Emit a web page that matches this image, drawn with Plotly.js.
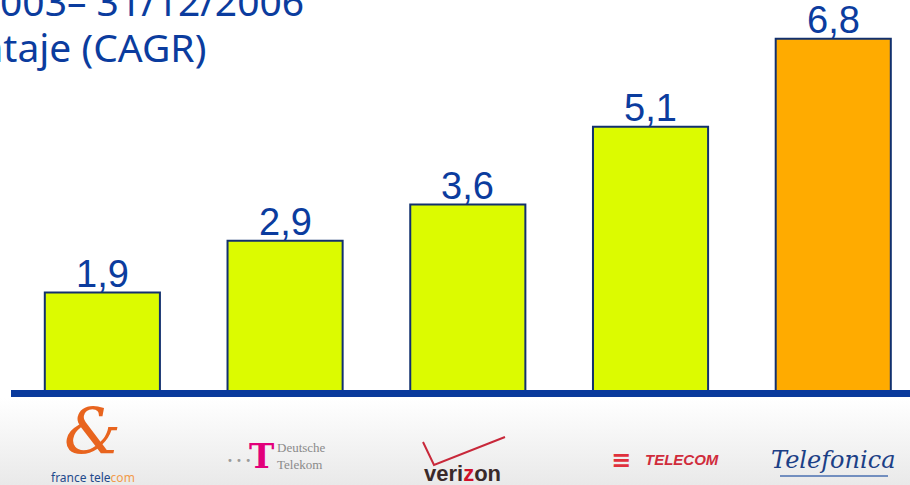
<!DOCTYPE html>
<html>
<head>
<meta charset="utf-8">
<script src="https://cdn.plot.ly/plotly-3.0.1.min.js"></script>
<style>html,body{margin:0;padding:0;background:#fff;}#chart{width:910px;height:485px;}</style>
</head>
<body>
<div id="chart"></div>
<script>
// ---- data ----
var companies = ["France Telecom", "Deutsche Telekom", "Verizon", "Telecom Italia", "Telefónica"];
var cagr = [1.9, 2.9, 3.6, 5.1, 6.8];
var valueLabels = ["1,9", "2,9", "3,6", "5,1", "6,8"];
var barColors = ["#dcfb00", "#dcfb00", "#dcfb00", "#dcfb00", "#ffab00"];
var titleLine1 = "Periodo 1/1/2003– 31/12/2006";
var titleLine2 = "Porcentaje (CAGR)";

// ---- layout helpers ----
var W = 910, H = 485, L = 11, R = 0, T = 3, B = 94;
var PW = W - L - R, PH = H - T - B;
function px(xp) { return (xp - L) / PW; }
function py(yp) { return (H - B - yp) / PH; }

var blue = "#0b3c9e";

var trace = {
  type: "bar",
  x: companies.map(function (c, i) { return i; }),
  y: cagr,
  width: 0.63,
  marker: { color: barColors, line: { color: "#12306e", width: 2 } },
  hoverinfo: "skip"
};

var annotations = [];
cagr.forEach(function (v, i) {
  annotations.push({
    x: i, y: v, xref: "x", yref: "y", text: valueLabels[i], showarrow: false,
    yanchor: "bottom", yshift: -4,
    font: { family: "Liberation Sans, Arial, sans-serif", size: 38, color: blue }
  });
});
// title (cut off by the top-left edge)
annotations.push({
  x: px(306), y: py(0), xref: "paper", yref: "paper", xanchor: "right", yanchor: "middle",
  text: titleLine1, showarrow: false,
  font: { family: "Noto Sans, sans-serif", size: 39, color: blue }
});
annotations.push({
  x: px(208), y: py(46), xref: "paper", yref: "paper", xanchor: "right", yanchor: "middle",
  text: titleLine2, showarrow: false,
  font: { family: "Noto Sans, sans-serif", size: 39, color: blue }
});

// ---- logo-like labels under each category ----
function logo(xp, yp, text, font, extra) {
  var a = { x: px(xp), y: py(yp), xref: "paper", yref: "paper", xanchor: "center", yanchor: "middle",
    showarrow: false, text: text, font: font };
  for (var k in (extra || {})) a[k] = extra[k];
  annotations.push(a);
}
// France Telecom
logo(92, 432, "<i>&amp;</i>", { family: "DejaVu Serif, serif", size: 64, color: "#e8641e" });
logo(93, 477, "france tele<span style='color:#f29a4a'>com</span>",
  { family: "Noto Sans, sans-serif", size: 12, color: "#1f4a8c" });
// Deutsche Telekom
logo(239, 460, "• • •", { family: "DejaVu Sans, sans-serif", size: 10, color: "#9a9a9a" });
logo(261, 456, "<b>T</b>", { family: "DejaVu Serif, serif", size: 34, color: "#e2007a" });
logo(275, 456, "Deutsche<br>Telekom", { family: "Liberation Serif, serif", size: 13, color: "#8a8a8a" },
  { xanchor: "left", align: "left" });
// Verizon
logo(462, 474, "<b>veri<span style='color:#d0102a'>z</span>on</b>",
  { family: "Liberation Sans, Arial, sans-serif", size: 22, color: "#3a2a2a" });
// Telecom Italia
logo(621, 460, "<b>≡</b>", { family: "DejaVu Sans, sans-serif", size: 24, color: "#e0303c" });
logo(643, 459, "<b><i>TELECOM</i></b>",
  { family: "Liberation Sans Narrow, Liberation Sans, sans-serif", size: 15, color: "#d02c3c" },
  { xanchor: "left" });
// Telefonica
logo(833, 460, "<i>Telefonica</i>", { family: "DejaVu Serif, serif", size: 24, color: "#1c3f86" });

var gradSvg = "<svg xmlns='http://www.w3.org/2000/svg' width='10' height='100' preserveAspectRatio='none'>" +
  "<defs><linearGradient id='g' x1='0' y1='0' x2='0' y2='1'><stop offset='0' stop-color='#ffffff'/>" +
  "<stop offset='1' stop-color='#e9e9e9'/></linearGradient></defs><rect width='10' height='100' fill='url(#g)'/></svg>";

var shapes = [
  // baseline axis bar
  { type: "rect", xref: "paper", yref: "paper", x0: 0, x1: 1, y0: py(397), y1: py(390),
    fillcolor: "#0a3a9c", line: { width: 0 }, layer: "above" },
  // verizon check mark
  { type: "path", xref: "paper", yref: "paper",
    path: "M " + px(423) + "," + py(442) + " L " + px(434) + "," + py(465) + " L " + px(505) + "," + py(437),
    line: { color: "#c8283a", width: 2 } },
  // telefonica underline
  { type: "line", xref: "paper", yref: "paper", x0: px(780), x1: px(888), y0: py(476), y1: py(476),
    line: { color: "#4a6fb0", width: 1.5 } }
];

var layout = {
  width: W, height: H,
  margin: { l: L, r: R, t: T, b: B, pad: 0 },
  paper_bgcolor: "#ffffff", plot_bgcolor: "rgba(0,0,0,0)",
  showlegend: false,
  xaxis: { range: [-0.5, 4.42], showticklabels: false, showgrid: false, zeroline: false, showline: false, ticks: "" },
  yaxis: { range: [0, PH / 51.8], showticklabels: false, showgrid: false, zeroline: false, showline: false, ticks: "" },
  annotations: annotations,
  shapes: shapes,
  images: [{ source: "data:image/svg+xml;utf8," + encodeURIComponent(gradSvg),
    xref: "paper", yref: "paper", x: -L / PW, y: py(398), sizex: W / PW, sizey: (485 - 398) / PH,
    sizing: "stretch", xanchor: "left", yanchor: "top", layer: "below" }]
};

Plotly.newPlot("chart", [trace], layout, { displayModeBar: false, staticPlot: true });
</script>
</body>
</html>
